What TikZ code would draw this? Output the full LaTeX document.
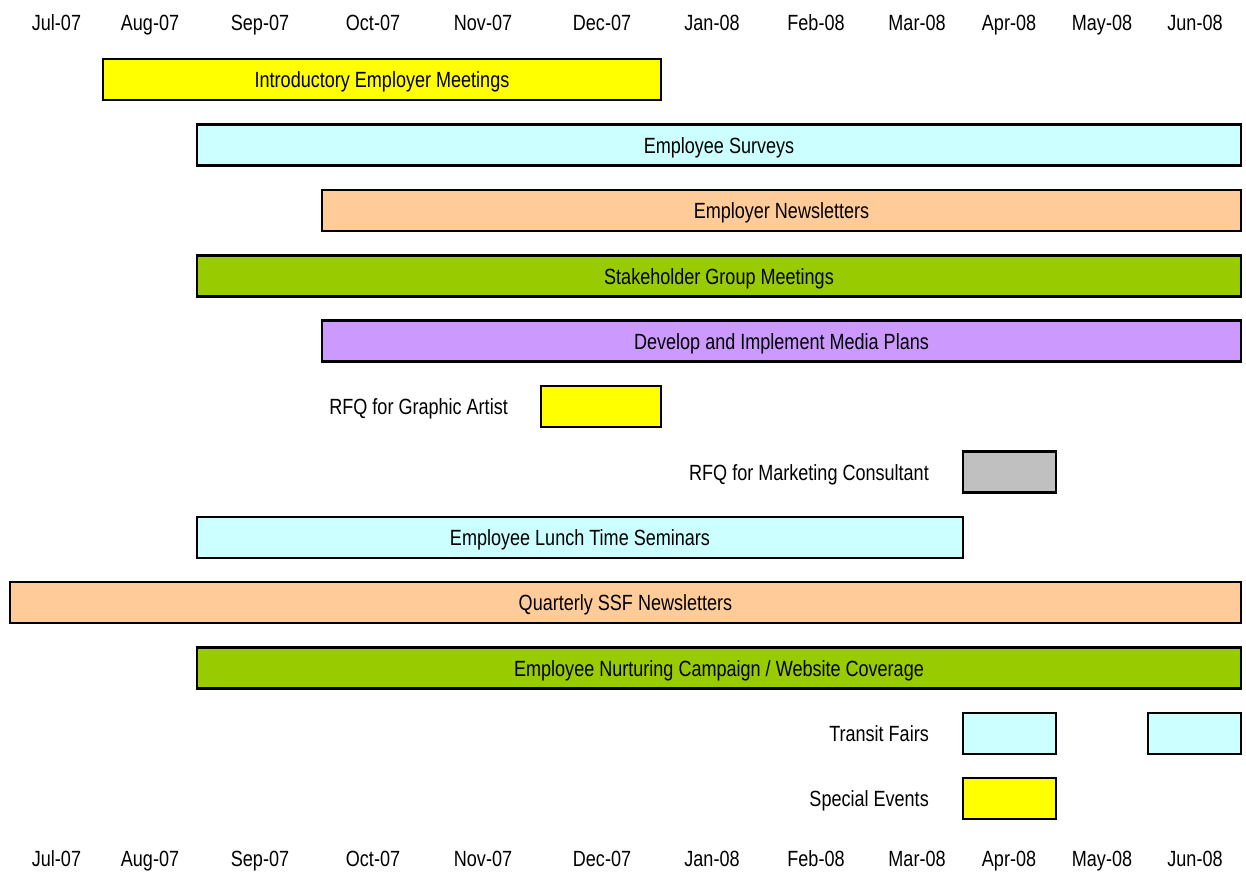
\documentclass[tikz,border=0pt]{standalone}
\usepackage{fontspec}
\setmainfont{Liberation Sans}[FakeStretch=0.82]
\definecolor{cYel}{HTML}{FFFF00}
\definecolor{cCyan}{HTML}{CCFFFF}
\definecolor{cPeach}{HTML}{FFCC99}
\definecolor{cGreen}{HTML}{99CC00}
\definecolor{cLav}{HTML}{CC99FF}
\definecolor{cGray}{HTML}{C0C0C0}
\tikzset{
  txt/.style={font=\fontsize{22}{26}\selectfont, text height=18pt, text depth=2pt},
  bar/.style={txt, draw=black, line width=2.5pt, minimum height=41pt, inner sep=0pt, outer sep=0pt, anchor=north west},
  lbl/.style={txt, inner sep=0pt, anchor=east},
  month/.style={inner sep=0pt, anchor=base, font=\fontsize{22}{26}\selectfont}
}
\begin{document}
\begin{tikzpicture}[x=1pt,y=-1pt]
\useasboundingbox (0,0) rectangle (1246,873);
% month labels
\foreach \n/\cx/\t in {1/56.5/Jul-07,2/150/Aug-07,3/260/Sep-07,4/373/Oct-07,5/483/Nov-07,6/602/Dec-07,7/712/Jan-08,8/816/Feb-08,9/917/Mar-08,10/1009/Apr-08,11/1102/May-08,12/1195/Jun-08}{
  \node[month] (top\n) at (\cx,30) {\t};
  \node[month] (bot\n) at (\cx,866) {\t};
}
% bars
\node[bar, fill=cYel, minimum width=558pt] (b1) at (103,59) {Introductory Employer Meetings};
\node[bar, fill=cCyan, minimum width=1044pt] (b2) at (197,124.5) {Employee Surveys};
\node[bar, fill=cPeach, minimum width=919pt] (b3) at (322,190) {Employer Newsletters};
\node[bar, fill=cGreen, minimum width=1044pt] (b4) at (197,255.5) {Stakeholder Group Meetings};
\node[bar, fill=cLav, minimum width=919pt] (b5) at (322,320.5) {Develop and Implement Media Plans};
\node[bar, fill=cYel, minimum width=120pt] (b6) at (541,386) {};
\node[lbl] (l6) at (508,406.5) {RFQ for Graphic Artist};
\node[bar, fill=cGray, minimum width=93pt] (b7) at (963,451.5) {};
\node[lbl] (l7) at (929,472) {RFQ for Marketing Consultant};
\node[bar, fill=cCyan, minimum width=766pt] (b8) at (197,517) {Employee Lunch Time Seminars};
\node[bar, fill=cPeach, minimum width=1231pt] (b9) at (10,582) {Quarterly SSF Newsletters};
\node[bar, fill=cGreen, minimum width=1044pt] (b10) at (197,647.5) {Employee Nurturing Campaign / Website Coverage};
\node[bar, fill=cCyan, minimum width=93pt] (b11a) at (963,713) {};
\node[bar, fill=cCyan, minimum width=93pt] (b11b) at (1148,713) {};
\node[lbl] (l11) at (929,733.5) {Transit Fairs};
\node[bar, fill=cYel, minimum width=93pt] (b12) at (963,778) {};
\node[lbl] (l12) at (929,798.5) {Special Events};
\end{tikzpicture}
\end{document}
